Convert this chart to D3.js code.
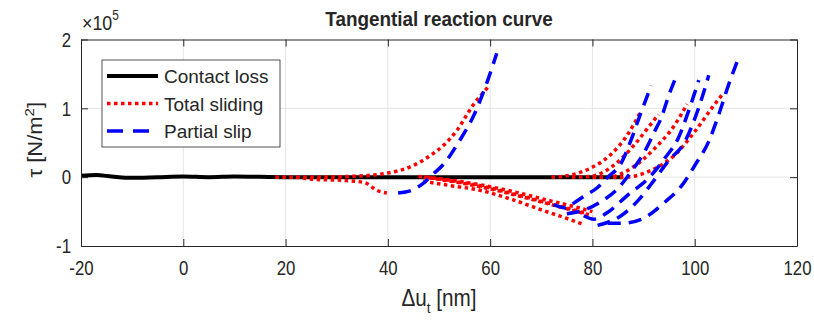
<!DOCTYPE html>
<html>
<head>
<meta charset="utf-8">
<script src="https://cdn.jsdelivr.net/npm/d3@7"></script>
<style>
  body { margin: 0; background: #fff; }
  svg text { font-family: "Liberation Sans", Arial, sans-serif; fill: #262626; }
</style>
</head>
<body>
<div id="chart"></div>
<script>
// tick values
const xTicks = [-20, 0, 20, 40, 60, 80, 100, 120];
const yTicks = [-1, 0, 1, 2];

// values: [du_t (nm), tau (x1e5 N/m^2)]
const contactLoss = [[-20, 0.02], [-17, 0.03], [-14, 0.01], [-10, -0.01], [-5, 0], [0, 0.01],
  [5, 0], [10, 0.01], [20, 0], [40, 0], [60, 0], [80, 0], [86, 0]];

const slidingLeftUp = [[18, 0], [25, 0], [32, 0.01], [37, 0.03], [40, 0.06], [45, 0.17], [48, 0.3],
  [51, 0.47], [53.5, 0.68], [56.7, 1.05], [59.5, 1.3]];
const slidingLeftDown = [[22, 0], [25.4, -0.03], [31.9, -0.05], [35.5, -0.08], [37.8, -0.19], [39.8, -0.23]];
const slidingDownA = [[46, 0.01], [52, -0.04], [58, -0.11], [64.5, -0.21], [71, -0.33], [77.6, -0.45], [80, -0.5]];
const slidingDownB = [[47, 0], [53, -0.06], [59, -0.14], [65, -0.25], [71, -0.37], [76, -0.47], [79, -0.53]];
const slidingDownC = [[48, -0.01], [54, -0.08], [60, -0.17], [66, -0.28], [72, -0.4], [77, -0.5], [80, -0.56]];
const slidingDownD = [[46.9, -0.06], [52, -0.12], [58, -0.19], [64.5, -0.33], [71, -0.5], [75, -0.6], [78, -0.68]];
const slidingUpA = [[72, 0], [75, 0.02], [79.6, 0.13], [83.6, 0.33], [86.9, 0.62], [89.5, 0.96]];
const slidingUpB = [[76, 0], [79.6, 0.01], [84.3, 0.18], [88.2, 0.47], [90.9, 0.72], [92.9, 0.91]];
const slidingUpC = [[80, 0], [83, 0], [87.6, 0.13], [92.2, 0.42], [96.2, 0.77], [98.5, 1.06]];
const slidingUpD = [[84, 0], [86.3, 0], [90.9, 0.08], [96.2, 0.33], [100.1, 0.67], [103.4, 1.01], [105.7, 1.23]];

const slipLeft = [[42, -0.23], [44.7, -0.19], [46.9, -0.09], [48.6, 0.03], [50.8, 0.18], [54.1, 0.54],
  [56.7, 0.88], [59.3, 1.36], [61.3, 1.8]];
const slipA = [[72.4, -0.4], [75, -0.45], [76.3, -0.38], [78.3, -0.28], [81, -0.15], [83, 0], [85.6, 0.2],
  [87.6, 0.55], [89.5, 0.94], [91.5, 1.33]];
const slipB = [[75, -0.53], [78.3, -0.48], [81.6, -0.36], [84.9, -0.17], [87.6, 0.08], [90.2, 0.37],
  [92.2, 0.67], [93.5, 0.87], [94.8, 1.16], [96.2, 1.43]];
const slipC = [[78.3, -0.56], [80.3, -0.61], [83, -0.51], [86.9, -0.26], [90.9, -0.02], [94.2, 0.28],
  [96.8, 0.57], [98.8, 0.96], [100.8, 1.41]];
const slipD = [[81, -0.7], [82, -0.68], [85.6, -0.56], [88.9, -0.34], [91.5, -0.1], [94.8, 0.23],
  [98.1, 0.52], [100.5, 0.95], [102.75, 1.48]];
const slipE = [[83, -0.67], [85.6, -0.67], [89.6, -0.61], [94.2, -0.36], [97.5, -0.12], [100.1, 0.18],
  [102.75, 0.52], [104.7, 0.91], [106.7, 1.36], [108.4, 1.7]];

const series = [
  { name: "Contact loss", color: "#000000", dash: null, legendDash: null, width: 4, curves: [contactLoss] },
  { name: "Total sliding", color: "#ff0000", dash: "3.5 3.5", legendDash: "3.5 3.5", width: 3.5,
    curves: [slidingLeftUp, slidingLeftDown, slidingDownA, slidingDownB, slidingDownC, slidingDownD,
      slidingUpA, slidingUpB, slidingUpC, slidingUpD] },
  { name: "Partial slip", color: "#0000ff", dash: "13 8", legendDash: "16 10", width: 3.5,
    curves: [slipLeft, slipA, slipB, slipC, slipD, slipE] }
];

const W = 814, H = 322;
const m = { left: 81, right: 17, top: 39.5, bottom: 76 };
const iw = W - m.left - m.right, ih = H - m.top - m.bottom;
const squeeze = 0.8; // tick labels look horizontally condensed

const svg = d3.select("#chart").append("svg").attr("width", W).attr("height", H);
const g = svg.append("g").attr("transform", `translate(${m.left},${m.top})`);

const x = d3.scaleLinear().domain([-20, 120]).range([0, iw]);
const y = d3.scaleLinear().domain([-1, 2]).range([ih, 0]);

// grid
g.append("g").selectAll("line").data(xTicks.slice(1, -1)).join("line")
  .attr("x1", d => x(d)).attr("x2", d => x(d)).attr("y1", 0).attr("y2", ih)
  .attr("stroke", "#e5e5e5").attr("stroke-width", 1);
g.append("g").selectAll("line").data(yTicks.slice(1, -1)).join("line")
  .attr("y1", d => y(d)).attr("y2", d => y(d)).attr("x1", 0).attr("x2", iw)
  .attr("stroke", "#e5e5e5").attr("stroke-width", 1);

// curves
const line = d3.line().x(d => x(d[0])).y(d => y(d[1])).curve(d3.curveMonotoneX);
g.append("clipPath").attr("id", "clip").append("rect").attr("width", iw).attr("height", ih);
const plot = g.append("g").attr("clip-path", "url(#clip)");
series.forEach(s => {
  plot.append("g").selectAll("path").data(s.curves).join("path")
    .attr("d", line)
    .attr("fill", "none")
    .attr("stroke", s.color)
    .attr("stroke-width", s.width)
    .attr("stroke-dasharray", s.dash);
});

// axes (box with inward ticks)
const tickLen = 7;
const fmt = d => String(d);
const axisStyle = sel => {
  sel.select(".domain").attr("stroke", "#262626");
  sel.selectAll(".tick line").attr("stroke", "#262626");
  sel.selectAll("text").attr("fill", "#262626").attr("font-size", 21)
    .attr("font-family", "Liberation Sans, Arial, sans-serif");
};
g.append("g").attr("transform", `translate(0,${ih})`)
  .call(d3.axisBottom(x).tickValues(xTicks).tickSizeInner(-tickLen).tickSizeOuter(0).tickPadding(14).tickFormat(fmt))
  .call(axisStyle)
  .selectAll("text").attr("transform", `scale(${squeeze},1)`);
g.append("g")
  .call(d3.axisTop(x).tickValues(xTicks).tickSizeInner(-tickLen).tickSizeOuter(0).tickFormat(""))
  .call(axisStyle);
g.append("g")
  .call(d3.axisLeft(y).tickValues(yTicks).tickSizeInner(-tickLen).tickSizeOuter(0).tickFormat(fmt))
  .call(axisStyle)
  .selectAll("text").attr("x", -10 / squeeze).attr("transform", `scale(${squeeze},1)`);
g.append("g").attr("transform", `translate(${iw},0)`)
  .call(d3.axisRight(y).tickValues(yTicks).tickSizeInner(-tickLen).tickSizeOuter(0).tickFormat(""))
  .call(axisStyle);

// title and labels
svg.append("text").attr("transform", `translate(${m.left + iw / 2},26) scale(0.9,1)`)
  .attr("text-anchor", "middle")
  .attr("font-size", 21).attr("font-weight", "bold").attr("fill", "#000").text("Tangential reaction curve");

const ex = svg.append("text").attr("transform", "translate(82,30) scale(0.85,1)").attr("font-size", 21);
ex.append("tspan").text("\u00d710");
ex.append("tspan").attr("dy", -10).attr("font-size", 14).text("5");

const xl = svg.append("text").attr("transform", `translate(${m.left + iw / 2},306) scale(0.9,1)`)
  .attr("text-anchor", "middle").attr("font-size", 23);
xl.append("tspan").text("\u0394u");
xl.append("tspan").attr("dy", 7).attr("font-size", 15).text("t");
xl.append("tspan").attr("dy", -7).text(" [nm]");

const yl = svg.append("text").attr("transform", `translate(42,${m.top + ih / 2 - 3}) rotate(-90) scale(1,0.9)`)
  .attr("text-anchor", "middle").attr("font-size", 22);
yl.append("tspan").text("\u03c4 [N/m");
yl.append("tspan").attr("dy", -9).attr("font-size", 15).text("2");
yl.append("tspan").attr("dy", 9).text("]");

// legend
const lg = svg.append("g").attr("transform", "translate(102,60)");
lg.append("rect").attr("width", 178).attr("height", 87).attr("fill", "#fff")
  .attr("stroke", "#262626").attr("stroke-width", 0.8);
series.forEach((s, i) => {
  const yy = 16 + i * 27.5;
  lg.append("line").attr("x1", 5).attr("x2", 56).attr("y1", yy).attr("y2", yy)
    .attr("stroke", s.color).attr("stroke-width", s.width)
    .attr("stroke-dasharray", s.legendDash);
  lg.append("text").attr("x", 62).attr("y", yy + 7).attr("font-size", 19).attr("fill", "#000").text(s.name);
});
</script>
</body>
</html>
